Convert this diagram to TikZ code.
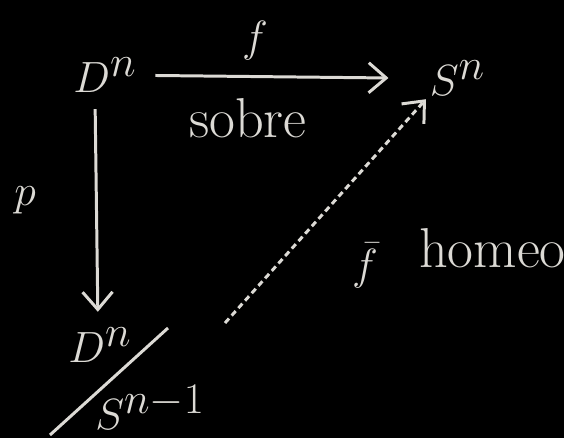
\documentclass[tikz,border=0pt]{standalone}
\usepackage{amsmath,amssymb}
\usepackage{tikz}
\usetikzlibrary{arrows.meta, positioning}
\definecolor{chalk}{HTML}{DCDAD5}

\begin{document}
\begin{tikzpicture}[
        every node/.style={text=chalk},
        obj/.style={inner sep=2pt, font=\fontsize{46}{50}\selectfont},
        lbl/.style={inner sep=1pt, font=\fontsize{32}{36}\selectfont},
        arr/.style={-{Straight Barb[length=3.5mm, width=6mm]}, line width=1.7pt, draw=chalk},
        dasharr/.style={arr, dash pattern=on 1.2mm off 0.8mm}
        ]
        \fill[black] (0,0) rectangle (11.28,8.76);
        \useasboundingbox (0,0) rectangle (11.28,8.76);
        % objects
        \node[obj] (Dn) at (2.1,7.25) {$D^n$};
        \node[obj] (Sn) at (9.15,7.2) {$S^n$};
        \node[obj] (Dq) at (2.0,1.85) {$D^n$};
        \node[obj] (Sq) at (3.0,0.62) {$S^{n-1}$};
        \coordinate (slashA) at (3.36,2.2);
        \coordinate (slashB) at (1.0,0.06);
        \coordinate (q) at (4.5,2.3);
        % labels
        \node[lbl] (f) at (5.1,7.95) {$f$};
        \node[lbl] (sobre) at (4.96,6.4) {sobre};
        \node[lbl] (p) at (0.5,4.76) {$p$};
        \node[lbl] (fbar) at (7.3,3.45) {$\bar f$};
        \node[lbl] (homeo) at (9.85,3.8) {homeo};
        % arrows
        \draw[arr] ([xshift=0.3cm]Dn.east) -- ([xshift=-0.75cm]Sn.west);
        \draw[arr, shorten <=0.25cm, shorten >=0.25cm] ([xshift=-0.2cm]Dn.south) -- ([xshift=-0.04cm]Dq.north);
        \draw[dasharr] (q) -- (Sn.south west);
        \draw[line width=1.7pt, draw=chalk] (slashA) -- (slashB);
    \end{tikzpicture}
\end{document}
